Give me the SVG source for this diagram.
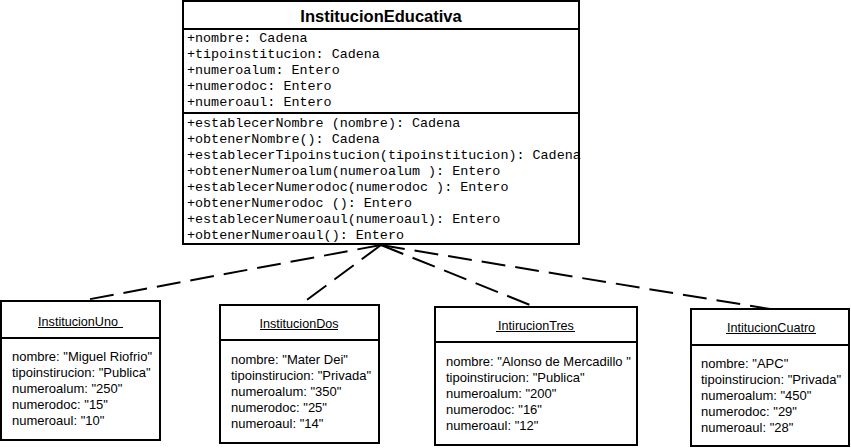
<svg xmlns="http://www.w3.org/2000/svg" width="851" height="448" viewBox="0 0 851 448">
<style>
.box{fill:#fff;stroke:#000;stroke-width:2}
.sep{stroke:#000;stroke-width:2}
.mono{font-family:"Liberation Mono","Courier New",monospace;font-size:13.4px;fill:#000}
.ttl{font-family:"Liberation Sans",Arial,sans-serif;font-size:16.5px;font-weight:bold;fill:#000}
.otl{font-family:"Liberation Sans",Arial,sans-serif;font-size:12.6px;fill:#000}
.att{font-family:"Liberation Sans",Arial,sans-serif;font-size:13px;fill:#000}
.ul{stroke:#000;stroke-width:1}
.dep{fill:none;stroke:#000;stroke-width:2;stroke-dasharray:24,10}
</style>
<rect width="851" height="448" fill="#fff"/>
<g id="connectors">
<line class="dep" x1="381" y1="245" x2="80" y2="301"/>
<line class="dep" x1="381" y1="245" x2="300" y2="305"/>
<line class="dep" x1="381" y1="245" x2="535" y2="307"/>
<line class="dep" x1="381" y1="245" x2="770" y2="309"/>
</g>
<g id="InstitucionEducativa">
<rect class="box" x="183" y="1" width="396" height="243"/>
<line class="sep" x1="183" y1="29" x2="579" y2="29"/>
<line class="sep" x1="183" y1="113" x2="579" y2="113"/>
<text class="ttl" x="381" y="22" text-anchor="middle">InstitucionEducativa</text>
<text class="mono" x="187" y="42">+nombre: Cadena</text>
<text class="mono" x="187" y="58">+tipoinstitucion: Cadena</text>
<text class="mono" x="187" y="74">+numeroalum: Entero</text>
<text class="mono" x="187" y="90">+numerodoc: Entero</text>
<text class="mono" x="187" y="106">+numeroaul: Entero</text>
<text class="mono" x="187" y="127">+establecerNombre (nombre): Cadena</text>
<text class="mono" x="187" y="143">+obtenerNombre(): Cadena</text>
<text class="mono" x="187" y="159">+establecerTipoinstucion(tipoinstitucion): Cadena</text>
<text class="mono" x="187" y="175">+obtenerNumeroalum(numeroalum ): Entero</text>
<text class="mono" x="187" y="191">+establecerNumerodoc(numerodoc ): Entero</text>
<text class="mono" x="187" y="207">+obtenerNumerodoc (): Entero</text>
<text class="mono" x="187" y="223">+establecerNumeroaul(numeroaul): Entero</text>
<text class="mono" x="187" y="239">+obtenerNumeroaul(): Entero</text>
</g>
<g id="InstitucionUno">
<rect class="box" x="1" y="301" width="159" height="139"/>
<line class="sep" x1="1" y1="338" x2="160" y2="338"/>
<text class="otl" x="78" y="326" text-anchor="middle">InstitucionUno</text>
<line class="ul" x1="38" y1="327.5" x2="123" y2="327.5"/>
<text class="att" x="12" y="361">nombre: "Miguel Riofrio"</text>
<text class="att" x="12" y="377">tipoinstirucion: "Publica"</text>
<text class="att" x="12" y="393">numeroalum: "250"</text>
<text class="att" x="12" y="409">numerodoc: "15"</text>
<text class="att" x="12" y="425">numeroaul: "10"</text>
</g>
<g id="InstitucionDos">
<rect class="box" x="220" y="305" width="159" height="138"/>
<line class="sep" x1="220" y1="340" x2="379" y2="340"/>
<text class="otl" x="299" y="328" text-anchor="middle">InstitucionDos</text>
<line class="ul" x1="260" y1="329.5" x2="338" y2="329.5"/>
<text class="att" x="231" y="364">nombre: "Mater Dei"</text>
<text class="att" x="231" y="380">tipoinstirucion: "Privada"</text>
<text class="att" x="231" y="396">numeroalum: "350"</text>
<text class="att" x="231" y="412">numerodoc: "25"</text>
<text class="att" x="231" y="428">numeroaul: "14"</text>
</g>
<g id="IntirucionTres">
<rect class="box" x="435" y="307" width="202" height="138"/>
<line class="sep" x1="435" y1="342" x2="637" y2="342"/>
<text class="otl" x="536" y="330" text-anchor="middle">IntirucionTres</text>
<line class="ul" x1="496" y1="331.5" x2="575" y2="331.5"/>
<text class="att" x="446" y="366">nombre: "Alonso de Mercadillo "</text>
<text class="att" x="446" y="382">tipoinstirucion: "Publica"</text>
<text class="att" x="446" y="398">numeroalum: "200"</text>
<text class="att" x="446" y="414">numerodoc: "16"</text>
<text class="att" x="446" y="430">numeroaul: "12"</text>
</g>
<g id="IntitucionCuatro">
<rect class="box" x="691" y="309" width="158" height="137"/>
<line class="sep" x1="691" y1="345" x2="849" y2="345"/>
<text class="otl" x="771" y="332" text-anchor="middle">IntitucionCuatro</text>
<line class="ul" x1="726" y1="333.5" x2="816" y2="333.5"/>
<text class="att" x="701" y="368">nombre: "APC"</text>
<text class="att" x="701" y="384">tipoinstirucion: "Privada"</text>
<text class="att" x="701" y="400">numeroalum: "450"</text>
<text class="att" x="701" y="416">numerodoc: "29"</text>
<text class="att" x="701" y="432">numeroaul: "28"</text>
</g>
</svg>
